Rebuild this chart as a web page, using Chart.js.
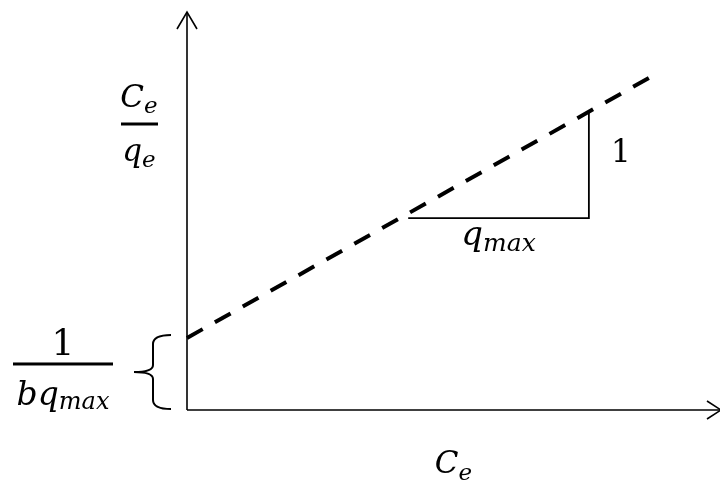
<!DOCTYPE html>
<html>
<head>
<meta charset="utf-8">
<script src="https://cdn.jsdelivr.net/npm/chart.js@4/dist/chart.umd.min.js"></script>
<style>
  html, body { margin: 0; padding: 0; background: #ffffff; }
  #wrap { width: 720px; height: 482px; }
</style>
</head>
<body>
<div id="wrap"><canvas id="plot" width="720" height="482"></canvas></div>
<script>
// Linearised Langmuir isotherm:  Ce/qe = 1/(b·qmax) + Ce/qmax
const ceRange = [0, 10];          // extent of the Ce axis
const ratioRange = [0, 10];       // extent of the Ce/qe axis
const lineCe = [0, 8.86];         // Ce at the ends of the fitted line
const lineRatio = [1.81, 8.49];   // Ce/qe at the ends of the fitted line
const slopeCe = [4.15, 7.54, 7.54];     // slope triangle (run, then rise)
const slopeRatio = [4.82, 4.82, 7.49];

const pts = (xs, ys) => xs.map((x, i) => ({ x, y: ys[i] }));
const INK = '#000000';
const SERIF = '"DejaVu Serif"';

// draw a symbol with an italic subscript, centred on cx, baseline y
function symbol(ctx, base, baseSize, sub, subSize, cx, y, subDrop) {
  ctx.font = `italic ${baseSize}px ${SERIF}`;
  const wb = ctx.measureText(base).width;
  ctx.font = `italic ${subSize}px ${SERIF}`;
  const ws = ctx.measureText(sub).width;
  const x0 = cx - (wb + ws) / 2;
  ctx.font = `italic ${baseSize}px ${SERIF}`;
  ctx.fillText(base, x0, y);
  ctx.font = `italic ${subSize}px ${SERIF}`;
  ctx.fillText(sub, x0 + wb, y + subDrop);
}

function bar(ctx, x1, x2, y, w) {
  ctx.fillRect(x1, y - w / 2, x2 - x1, w);
}

function arrowHead(ctx, tipX, tipY, dirX, dirY, len, half) {
  const px = -dirY, py = dirX;
  ctx.beginPath();
  ctx.moveTo(tipX - dirX * len + px * half, tipY - dirY * len + py * half);
  ctx.lineTo(tipX, tipY);
  ctx.lineTo(tipX - dirX * len - px * half, tipY - dirY * len - py * half);
  ctx.stroke();
}

const annotations = {
  id: 'isothermAnnotations',
  afterDatasetsDraw(chart) {
    const { ctx, chartArea: area, scales: { x, y } } = chart;
    ctx.save();
    ctx.strokeStyle = INK;
    ctx.fillStyle = INK;
    ctx.lineCap = 'butt';
    ctx.lineJoin = 'miter';

    // axis arrowheads
    ctx.lineWidth = 1.6;
    arrowHead(ctx, x.getPixelForValue(0), y.getPixelForValue(ratioRange[1]), 0, -1, 17, 10);
    arrowHead(ctx, x.getPixelForValue(ceRange[1]) + 1, y.getPixelForValue(0), 1, 0, 14, 9);

    // brace marking the intercept 1/(b·qmax)
    const yTop = y.getPixelForValue(lineRatio[0]) - 3;
    const yBot = y.getPixelForValue(0) - 1;
    const yMid = (yTop + yBot) / 2;
    const bx = area.left - 34, armR = area.left - 16, tipX = area.left - 53;
    ctx.lineWidth = 2;
    ctx.beginPath();
    ctx.moveTo(armR, yTop);
    ctx.quadraticCurveTo(bx, yTop, bx, yTop + 9);
    ctx.lineTo(bx, yMid - 7);
    ctx.quadraticCurveTo(bx, yMid, tipX, yMid);
    ctx.quadraticCurveTo(bx, yMid, bx, yMid + 7);
    ctx.lineTo(bx, yBot - 9);
    ctx.quadraticCurveTo(bx, yBot, armR, yBot);
    ctx.stroke();

    ctx.textBaseline = 'alphabetic';
    ctx.textAlign = 'left';

    // y-axis title: Ce / qe
    const ycx = area.left - 48;
    symbol(ctx, 'C', 31, 'e', 23, ycx, 107, 6);
    bar(ctx, ycx - 18, ycx + 19, 124, 3);
    symbol(ctx, 'q', 31, 'e', 23, ycx, 161, 6);

    // x-axis title: Ce
    symbol(ctx, 'C', 31, 'e', 23, (area.left + area.right) / 2, area.bottom + 63, 7);

    // intercept label: 1 / (b qmax)
    const icx = 63;
    ctx.font = `36px ${SERIF}`;
    ctx.textAlign = 'center';
    ctx.fillText('1', icx, yMid - 17);
    ctx.textAlign = 'left';
    bar(ctx, icx - 50, icx + 50, yMid - 8, 3);
    symbol(ctx, 'bq', 33, 'max', 24, icx, yMid + 33, 4);

    // slope triangle labels
    const runMid = (x.getPixelForValue(slopeCe[0]) + x.getPixelForValue(slopeCe[1])) / 2;
    const runY = y.getPixelForValue(slopeRatio[0]);
    symbol(ctx, 'q', 34, 'max', 25, runMid, runY + 27, 6);
    const riseX = x.getPixelForValue(slopeCe[2]);
    const riseMid = (y.getPixelForValue(slopeRatio[1]) + y.getPixelForValue(slopeRatio[2])) / 2;
    ctx.font = `31px ${SERIF}`;
    ctx.fillText('1', riseX + 22, riseMid - 3);

    ctx.restore();
  }
};

new Chart(document.getElementById('plot'), {
  type: 'scatter',
  data: {
    datasets: [
      { label: 'Ce axis', data: pts(ceRange, [0, 0]), showLine: true, borderColor: INK, borderWidth: 1.6, pointRadius: 0, clip: false },
      { label: 'Ce/qe axis', data: pts([0, 0], ratioRange), showLine: true, borderColor: INK, borderWidth: 1.6, pointRadius: 0, clip: false },
      { label: 'slope', data: pts(slopeCe, slopeRatio), showLine: true, borderColor: INK, borderWidth: 1.8, pointRadius: 0, clip: false },
      { label: 'Ce/qe', data: pts(lineCe, lineRatio), showLine: true, borderColor: INK, borderWidth: 4, borderDash: [18, 14], borderCapStyle: 'butt', pointRadius: 0, clip: false }
    ]
  },
  options: {
    responsive: false,
    animation: false,
    devicePixelRatio: 1,
    layout: { padding: { left: 187, right: 0, top: 12, bottom: 72 } },
    scales: {
      x: { type: 'linear', display: false, min: ceRange[0], max: ceRange[1] },
      y: { type: 'linear', display: false, min: ratioRange[0], max: ratioRange[1] }
    },
    plugins: { legend: { display: false }, tooltip: { enabled: false }, title: { display: false } },
    events: []
  },
  plugins: [annotations]
});
</script>
</body>
</html>
